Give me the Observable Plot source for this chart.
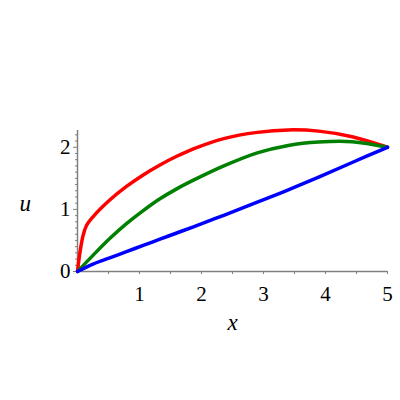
<!DOCTYPE html>
<html>
<head>
<meta charset="utf-8">
<script src="https://cdn.jsdelivr.net/npm/d3@7"></script>
<script src="https://cdn.jsdelivr.net/npm/@observablehq/plot@0.6"></script>
<style>
  html, body { margin: 0; padding: 0; background: #fff; }
</style>
</head>
<body>
<div id="chart"></div>
<script>
const redX   = [0, 0.04, 0.09, 0.145, 0.25, 0.52, 0.79, 1.06, 1.33, 1.60, 1.87, 2.36, 2.90, 3.40, 3.89, 4.43, 5];
const redY   = [0, 0.31, 0.58, 0.74, 0.88, 1.15, 1.37, 1.555, 1.715, 1.855, 1.975, 2.14, 2.24, 2.28, 2.26, 2.17, 2.0];
const greenX = [0, 0.25, 0.52, 0.79, 1.06, 1.33, 1.60, 1.87, 2.36, 2.90, 3.40, 3.89, 4.43, 5];
const greenY = [0, 0.26, 0.53, 0.77, 0.98, 1.17, 1.33, 1.47, 1.70, 1.91, 2.03, 2.085, 2.09, 2.0];
const blueX  = [0, 0.25, 0.52, 0.79, 1.06, 1.33, 1.60, 1.87, 2.36, 2.90, 3.40, 3.89, 4.43, 5];
const blueY  = [0, 0.12, 0.22, 0.32, 0.42, 0.52, 0.62, 0.72, 0.905, 1.115, 1.315, 1.52, 1.755, 2.0];
const xMajor = [1, 2, 3, 4, 5];
const xMinor = [0.5, 1.5, 2.5, 3.5, 4.5];
const yMajor = [0, 1, 2];
const yMinor = d3.range(1, 23).map(i => i / 10).filter(v => Math.abs(v - Math.round(v)) > 1e-9);
const xLabel = "x";
const yLabel = "u";

const toRows = (xs, ys, s) => xs.map((x, i) => ({x, y: ys[i], s}));
const rows = [
  ...toRows(redX, redY, "red"),
  ...toRows(greenX, greenY, "green"),
  ...toRows(blueX, blueY, "blue")
];

const axisColor = "#808080";
const font = "Liberation Serif, Times New Roman, DejaVu Serif, serif";

const chart = Plot.plot({
  width: 400,
  height: 400,
  marginLeft: 77,
  marginRight: 13,
  marginTop: 130,
  marginBottom: 129,
  style: {fontFamily: font, fontSize: "21px", background: "#fff", color: "#000"},
  x: {domain: [0, 5]},
  y: {domain: [0, 2.27]},
  color: {domain: ["red", "green", "blue"], range: ["#ff0000", "#008000", "#0000ff"]},
  marks: [
    Plot.axisX(xMinor, {anchor: "bottom", tickSize: 3, stroke: axisColor, tickFormat: () => "", label: null}),
    Plot.axisX(xMajor, {anchor: "bottom", tickSize: 3, tickPadding: 12, stroke: axisColor, fill: "#000", fontSize: 21, fontFamily: font, tickFormat: d => String(d), label: null}),
    Plot.axisY(yMinor, {anchor: "left", tickSize: 2, stroke: axisColor, tickFormat: () => "", label: null}),
    Plot.axisY(yMajor, {anchor: "left", tickSize: 4, tickPadding: 3, stroke: axisColor, fill: "#000", fontSize: 21, fontFamily: font, tickFormat: d => String(d), label: null}),
    Plot.ruleY([0], {stroke: axisColor, strokeWidth: 1.5}),
    Plot.ruleX([0], {stroke: axisColor, strokeWidth: 1.5}),
    Plot.line(rows, {x: "x", y: "y", z: "s", stroke: "s", strokeWidth: 3.5, curve: "catmull-rom"}),
    Plot.text([yLabel], {frameAnchor: "left", dx: -58, dy: 3, fontStyle: "italic", fontSize: 23, fontFamily: font, fill: "#000"}),
    Plot.text([xLabel], {frameAnchor: "bottom", dy: 58, fontStyle: "italic", fontSize: 23, fontFamily: font, fill: "#000"})
  ]
});
document.getElementById("chart").appendChild(chart);
</script>
</body>
</html>
